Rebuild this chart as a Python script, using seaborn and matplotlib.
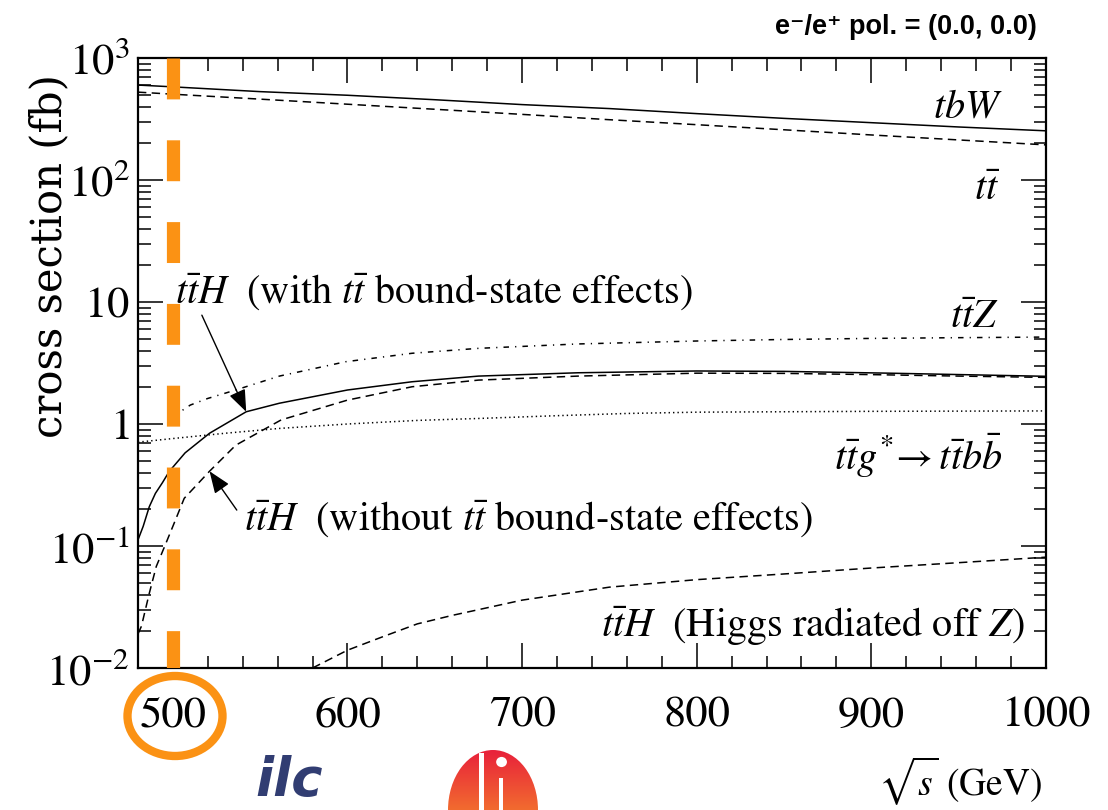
import numpy as np
import matplotlib
matplotlib.use("Agg")
import matplotlib.pyplot as plt
import seaborn as sns
from matplotlib.patches import Ellipse, Rectangle
from matplotlib.ticker import FixedLocator, FixedFormatter, LogLocator, MultipleLocator, NullFormatter

# Cross sections (fb) versus centre-of-mass energy sqrt(s) (GeV), unpolarised beams
sqrt_s_tbw = [480, 500, 550, 600, 650, 700, 750, 800, 850, 900, 950, 1000]
xsec_tbw = [600, 580, 530, 495, 455, 415, 385, 350, 320, 295, 272, 253]

sqrt_s_tt = [480, 500, 550, 600, 650, 700, 750, 800, 850, 900, 950, 1000]
xsec_tt = [525, 505, 460, 418, 380, 345, 312, 284, 258, 234, 213, 194]

sqrt_s_ttz = [500, 510, 520, 536, 561, 599, 637, 675, 732, 800, 850, 900, 950, 1000]
xsec_ttz = [1.15, 1.43, 1.62, 1.90, 2.47, 3.24, 3.80, 4.17, 4.53, 4.79, 4.93, 5.03, 5.1, 5.16]

sqrt_s_tth_bound = [480, 483, 486.5, 490, 494, 498, 507, 521, 542, 561, 600, 637, 675,
                    732, 800, 850, 910, 1000]
xsec_tth_bound = [0.112, 0.145, 0.21, 0.27, 0.33, 0.41, 0.58, 0.84, 1.26, 1.48, 1.90, 2.22, 2.47,
                  2.63, 2.72, 2.70, 2.61, 2.46]

sqrt_s_tth_free = [480, 482, 486.5, 490.5, 495, 500, 506.5, 521, 536, 555, 562, 600, 637,
                   675, 732, 800, 850, 900, 950, 1000]
xsec_tth_free = [0.019, 0.022, 0.041, 0.068, 0.097, 0.145, 0.246, 0.41, 0.67, 0.95, 1.08, 1.57, 2.02,
                 2.29, 2.47, 2.61, 2.6, 2.54, 2.47, 2.41]

sqrt_s_ttbb = [480, 500, 530, 561, 600, 640, 675, 720, 760, 800, 900, 1000]
xsec_ttbb = [0.71, 0.76, 0.84, 0.92, 1.0, 1.07, 1.11, 1.17, 1.22, 1.25, 1.27, 1.28]

sqrt_s_tth_z = [580, 600, 620, 640, 660, 700, 750, 800, 850, 900, 950, 1000]
xsec_tth_z = [0.01, 0.014, 0.018, 0.023, 0.027, 0.036, 0.046, 0.053, 0.059, 0.066, 0.073, 0.081]

x_tick_values = [500, 600, 700, 800, 900, 1000]
x_tick_labels = ["500", "600", "700", "800", "900", "1000"]
y_tick_values = [1e-2, 1e-1, 1, 10, 100, 1000]
y_tick_labels = [r"$10^{-2}$", r"$10^{-1}$", r"$1$", r"$10$", r"$10^{2}$", r"$10^{3}$"]

highlight_energy = 500  # GeV

sns.set_theme(style="ticks")
plt.rcParams["font.family"] = ["STIXGeneral", "DejaVu Sans"]
plt.rcParams["mathtext.fontset"] = "stix"

ORANGE = "#fb9214"
fig = plt.figure(figsize=(11.08, 8.10), dpi=100, facecolor="white")
ax = fig.add_axes([0.1245, 0.1753, 0.8195, 0.7531])
ax.set_facecolor("white")

line_kw = dict(ax=ax, color="black", lw=1.1, legend=False)
sns.lineplot(x=sqrt_s_tbw, y=xsec_tbw, linestyle="-", **line_kw)
sns.lineplot(x=sqrt_s_tt, y=xsec_tt, linestyle=(0, (5.5, 3.5)), **line_kw)
sns.lineplot(x=sqrt_s_ttz, y=xsec_ttz, linestyle=(0, (3.6, 4.0, 0.8, 4.0)), **line_kw)
sns.lineplot(x=sqrt_s_tth_bound, y=xsec_tth_bound, linestyle="-", **line_kw)
sns.lineplot(x=sqrt_s_tth_free, y=xsec_tth_free, linestyle=(0, (5.5, 3.5)), **line_kw)
sns.lineplot(x=sqrt_s_ttbb, y=xsec_ttbb, linestyle=(0, (0.9, 2.0)), **line_kw)
sns.lineplot(x=sqrt_s_tth_z, y=xsec_tth_z, linestyle=(0, (5.5, 3.5)), **line_kw)

ax.set_yscale("log")
ax.set_xlim(480, 1000)
ax.set_ylim(1e-2, 1e3)

# highlighted energy: thick dashed orange marker line running from the top down
ax.plot([highlight_energy, highlight_energy], [1e3, 1e-2], color=ORANGE, lw=9.5,
        dashes=(3.1, 3.1), dash_capstyle="butt", zorder=6, clip_on=True)

ax.xaxis.set_major_locator(FixedLocator(x_tick_values))
ax.xaxis.set_major_formatter(FixedFormatter(x_tick_labels))
ax.xaxis.set_minor_locator(MultipleLocator(20))
ax.yaxis.set_major_locator(FixedLocator(y_tick_values))
ax.yaxis.set_major_formatter(FixedFormatter(y_tick_labels))
ax.yaxis.set_minor_locator(LogLocator(base=10, subs=np.arange(2, 10)))
ax.yaxis.set_minor_formatter(NullFormatter())

ax.tick_params(which="both", direction="in", top=True, right=True, color="black",
               labelcolor="black", labelsize=32)
ax.tick_params(which="major", length=18, width=1.1)
ax.tick_params(which="minor", length=9, width=1.1)
ax.tick_params(axis="x", which="major", pad=21)
ax.tick_params(axis="y", which="major", pad=6)
for sp in ax.spines.values():
    sp.set_color("black")
    sp.set_linewidth(1.6)
ax.set_xlabel("")
ax.set_ylabel("")
ax.grid(False)

# curve labels
lab = dict(fontsize=29, color="black", va="baseline")
ax.text(501, 9.8, r"$t\bar{t}H$  (with $t\bar{t}$ bound-state effects)", ha="left", **lab)
ax.text(541, 0.135, r"$t\bar{t}H$  (without $t\bar{t}$ bound-state effects)", ha="left", **lab)
ax.text(975, 322, r"$tbW$", ha="right", **lab)
ax.text(974, 68.5, r"$t\bar{t}$", ha="right", **lab)
ax.text(973, 6.1, r"$t\bar{t}Z$", ha="right", **lab)
ax.text(975, 0.42, r"$t\bar{t}g^{*}\!\rightarrow t\bar{t}b\bar{b}$", ha="right", **lab)
ax.text(988, 0.018, r"$t\bar{t}H$  (Higgs radiated off $Z$)", ha="right", **lab)

arrow = dict(arrowstyle="-|>,head_length=0.9,head_width=0.35", color="black", lw=1.0,
             shrinkA=0, shrinkB=0, mutation_scale=15)
ax.annotate("", xy=(542, 1.26), xytext=(516.6, 7.8), arrowprops=arrow)
ax.annotate("", xy=(521, 0.41), xytext=(536.6, 0.197), arrowprops=arrow)

# axis titles
fig.text(49 / 1108, 1 - 256 / 810, "cross section (fb)", rotation=90, ha="center", va="center",
         fontsize=30, family=["DejaVu Serif"], color="black")
fig.text(1042 / 1108, 1 - 795 / 810, r"$\sqrt{s}$ (GeV)", ha="right", va="baseline",
         fontsize=27, color="black")
fig.text(1037 / 1108, 1 - 27 / 810, "e\u207b/e\u207a pol. = (0.0, 0.0)", ha="right", va="center",
         fontsize=19.5, fontweight="bold", family=["Liberation Sans", "DejaVu Sans"],
         color="black")

# ring around the highlighted tick label
fig.add_artist(Ellipse((175 / 1108, 1 - 716 / 810), 95 / 1108, 80 / 810,
                       transform=fig.transFigure, fill=False, ec=ORANGE, lw=6))

# logos along the bottom edge
fig.text(255 / 1108, 3 / 810, "ilc", ha="left", va="bottom", fontsize=38,
         fontweight="bold", fontstyle="italic", color="#313d72",
         family=["DejaVu Sans"])

lax = fig.add_axes([448 / 1108, 0, 90 / 1108, 60 / 810])
lax.set_xlim(0, 1)
lax.set_ylim(0, 1)
lax.axis("off")
grad = np.linspace(0, 1, 64).reshape(-1, 1)
cmap = matplotlib.colors.LinearSegmentedColormap.from_list("logo", ["#f26b2f", "#e8213b"])
img = lax.imshow(grad, cmap=cmap, extent=(0, 1, 0, 1), origin="lower", aspect="auto")
dome = Ellipse((0.5, 0.0), 1.0, 2.0, transform=lax.transAxes, fc="none", ec="none")
lax.add_patch(dome)
img.set_clip_path(dome)
lax.add_patch(Rectangle((0.35, 0.0), 0.045, 0.95, transform=lax.transAxes, fc="white", ec="none"))
lax.add_patch(Rectangle((0.57, 0.0), 0.045, 0.53, transform=lax.transAxes, fc="white", ec="none"))
lax.add_patch(Ellipse((0.595, 0.80), 0.12, 0.17, transform=lax.transAxes, fc="white", ec="none"))

fig.savefig("out.png", dpi=100, facecolor="white")
